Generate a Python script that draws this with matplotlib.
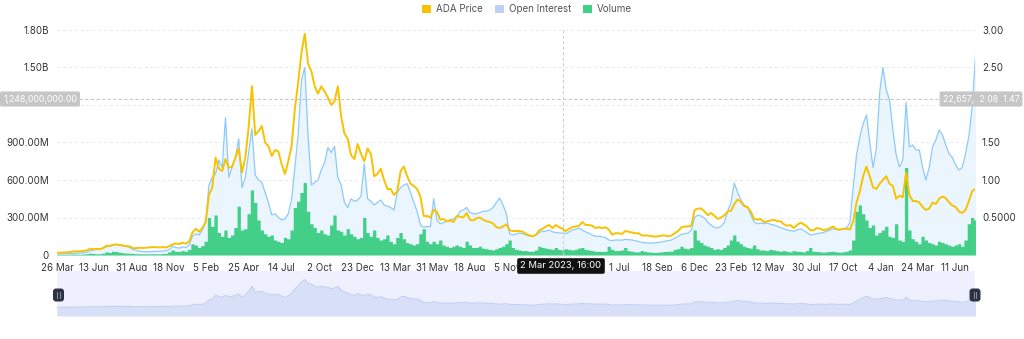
import numpy as np
import pandas as pd
import matplotlib as mlt
mlt.use('Agg')
from matplotlib import pyplot as plt
from matplotlib.patches import FancyBboxPatch, Patch
from matplotlib.lines import Line2D

plt.rcParams['font.family'] = ['Inter', 'DejaVu Sans']

# weekly samples, 26 Mar 2020 .. 24 Jul 2025
dates = pd.date_range('2020-03-26', periods=279, freq='7D')

# ADA price (USD), right axis
price = [
    0.032, 0.030, 0.034, 0.035, 0.039, 0.048, 0.050, 0.048, 0.057, 0.060,
    0.085, 0.078, 0.081, 0.078, 0.095, 0.125, 0.120, 0.135, 0.140, 0.135,
    0.122, 0.118, 0.115, 0.090, 0.092, 0.096, 0.093, 0.098, 0.102, 0.105,
    0.105, 0.100, 0.105, 0.100, 0.120, 0.140, 0.155, 0.145, 0.165, 0.150,
    0.180, 0.300, 0.350, 0.310, 0.360, 0.440, 0.800, 0.900, 1.300, 1.150,
    1.120, 1.280, 1.160, 1.180, 1.300, 1.420, 1.100, 1.300, 1.700, 2.250,
    1.600, 1.650, 1.720, 1.500, 1.450, 1.320, 1.400, 1.380, 1.210, 1.080,
    1.250, 1.450, 1.950, 2.300, 2.700, 2.950, 2.550, 2.450, 2.250, 2.150,
    2.250, 2.180, 2.100, 2.000, 2.050, 2.250, 1.850, 1.620, 1.550, 1.330,
    1.280, 1.480, 1.350, 1.250, 1.420, 1.350, 1.050, 1.080, 1.150, 1.000,
    0.880, 0.880, 0.800, 0.850, 1.120, 1.180, 1.050, 0.950, 0.920, 0.880,
    0.780, 0.520, 0.520, 0.500, 0.600, 0.580, 0.470, 0.480, 0.450, 0.460,
    0.440, 0.520, 0.510, 0.500, 0.560, 0.470, 0.460, 0.490, 0.500, 0.470,
    0.450, 0.440, 0.420, 0.370, 0.360, 0.380, 0.410, 0.330, 0.320, 0.320,
    0.320, 0.310, 0.280, 0.260, 0.250, 0.270, 0.330, 0.350, 0.380, 0.400,
    0.360, 0.400, 0.370, 0.350, 0.320, 0.350, 0.370, 0.380, 0.390, 0.440,
    0.400, 0.400, 0.390, 0.360, 0.370, 0.360, 0.370, 0.340, 0.270, 0.290,
    0.290, 0.280, 0.320, 0.310, 0.300, 0.290, 0.290, 0.260, 0.260, 0.260,
    0.250, 0.245, 0.250, 0.260, 0.260, 0.250, 0.260, 0.290, 0.320, 0.370,
    0.380, 0.380, 0.390, 0.600, 0.620, 0.620, 0.580, 0.530, 0.560, 0.520,
    0.480, 0.500, 0.530, 0.580, 0.590, 0.680, 0.740, 0.710, 0.650, 0.640,
    0.580, 0.480, 0.470, 0.480, 0.440, 0.450, 0.460, 0.470, 0.450, 0.450,
    0.410, 0.390, 0.400, 0.360, 0.400, 0.430, 0.410, 0.380, 0.330, 0.330,
    0.360, 0.350, 0.330, 0.340, 0.360, 0.380, 0.340, 0.340, 0.350, 0.350,
    0.340, 0.450, 0.700, 0.850, 1.050, 1.180, 1.050, 0.900, 0.880, 0.950,
    1.000, 1.050, 0.950, 0.920, 0.750, 0.790, 0.770, 1.100, 0.800, 0.720,
    0.720, 0.700, 0.640, 0.600, 0.620, 0.700, 0.680, 0.750, 0.780, 0.760,
    0.700, 0.660, 0.640, 0.580, 0.560, 0.600, 0.720, 0.850, 0.880,
]

# open interest (millions USD), left axis
oi_m = [
    8, 8, 10, 10, 12, 14, 16, 16, 18, 22,
    35, 40, 45, 50, 55, 65, 75, 80, 85, 82,
    78, 70, 60, 45, 38, 30, 28, 26, 26, 28,
    30, 30, 32, 34, 45, 70, 60, 55, 65, 60,
    80, 150, 170, 160, 200, 260, 560, 620, 650, 760,
    700, 1100, 620, 700, 780, 930, 540, 620, 820, 1010,
    640, 600, 580, 500, 420, 320, 330, 300, 280, 290,
    330, 440, 700, 960, 1400, 1500, 950, 560, 580, 600,
    680, 740, 860, 820, 870, 620, 560, 420, 380, 450,
    430, 440, 470, 730, 450, 430, 400, 420, 440, 400,
    390, 380, 360, 500, 540, 560, 570, 500, 420, 350,
    240, 220, 230, 225, 450, 280, 250, 260, 270, 280,
    290, 300, 350, 360, 380, 340, 330, 330, 340, 350,
    350, 360, 380, 420, 456, 400, 330, 170, 160, 170,
    176, 170, 160, 150, 150, 160, 180, 190, 190, 200,
    185, 180, 176, 175, 170, 185, 200, 205, 216, 200,
    185, 175, 160, 150, 150, 145, 140, 120, 115, 120,
    120, 118, 125, 122, 120, 115, 108, 100, 98, 96,
    96, 98, 100, 105, 110, 115, 120, 135, 150, 165,
    170, 176, 200, 300, 320, 310, 296, 260, 240, 220,
    216, 230, 260, 350, 420, 576, 500, 440, 400, 384,
    320, 264, 250, 255, 250, 256, 245, 240, 230, 220,
    210, 200, 195, 190, 200, 210, 195, 180, 160, 165,
    170, 175, 180, 190, 200, 210, 205, 200, 210, 216,
    260, 544, 800, 944, 1050, 1120, 900, 700, 850, 1300,
    1500, 1320, 1240, 1000, 800, 704, 760, 1220, 864, 880,
    840, 840, 700, 600, 700, 864, 920, 1000, 960, 880,
    810, 780, 720, 680, 700, 810, 950, 1180, 1600,
]

# volume (millions USD), left axis
vol_m = [
    5, 4, 5, 5, 6, 8, 7, 6, 8, 10,
    15, 12, 10, 10, 14, 25, 20, 30, 28, 22,
    18, 15, 14, 12, 10, 10, 9, 10, 9, 10,
    10, 9, 12, 12, 25, 40, 30, 28, 35, 30,
    45, 90, 80, 60, 75, 110, 300, 230, 320, 180,
    150, 200, 140, 160, 220, 390, 200, 210, 330, 520,
    420, 280, 200, 170, 150, 160, 120, 110, 100, 140,
    130, 200, 380, 430, 500, 580, 350, 250, 220, 180,
    200, 170, 160, 240, 320, 200, 190, 160, 210, 170,
    150, 130, 140, 300, 180, 150, 200, 140, 120, 130,
    160, 110, 90, 140, 180, 130, 100, 90, 80, 90,
    170, 210, 110, 90, 110, 90, 120, 80, 70, 60,
    70, 80, 70, 60, 110, 80, 60, 60, 70, 55,
    50, 45, 40, 50, 60, 70, 90, 120, 60, 45,
    40, 35, 35, 30, 30, 40, 70, 60, 55, 50,
    45, 60, 45, 40, 50, 45, 40, 45, 55, 60,
    45, 40, 35, 30, 30, 28, 30, 70, 45, 35,
    35, 40, 60, 35, 30, 25, 25, 35, 28, 25,
    22, 20, 22, 25, 28, 30, 30, 45, 50, 70,
    55, 50, 60, 200, 120, 100, 80, 70, 60, 45,
    50, 45, 60, 80, 120, 160, 110, 90, 70, 60,
    55, 80, 50, 40, 40, 35, 45, 40, 35, 30,
    35, 30, 25, 35, 30, 28, 25, 35, 60, 30,
    28, 25, 22, 25, 28, 30, 25, 22, 25, 30,
    40, 120, 350, 400, 330, 280, 220, 240, 160, 180,
    200, 230, 150, 140, 250, 120, 110, 700, 200, 130,
    110, 90, 150, 120, 100, 90, 80, 110, 100, 90,
    80, 70, 80, 90, 70, 120, 250, 300, 280,
]

tick_dates = ['2020-03-26', '2020-06-13', '2020-08-31', '2020-11-18', '2021-02-05',
              '2021-04-25', '2021-07-14', '2021-10-02', '2021-12-23', '2022-03-13',
              '2022-05-31', '2022-08-18', '2022-11-05', '2023-07-01', '2023-09-18',
              '2023-12-06', '2024-02-23', '2024-05-12', '2024-07-30', '2024-10-17',
              '2025-01-04', '2025-03-24', '2025-06-11']
tick_labels = ['26 Mar', '13 Jun', '31 Aug', '18 Nov', '5 Feb', '25 Apr', '14 Jul',
               '2 Oct', '23 Dec', '13 Mar', '31 May', '18 Aug', '5 Nov', '1 Jul',
               '18 Sep', '6 Dec', '23 Feb', '12 May', '30 Jul', '17 Oct', '4 Jan',
               '24 Mar', '11 Jun']

left_ticks = [0, 300, 600, 900, 1200, 1500, 1800]
left_labels = ['0', '300.00M', '600.00M', '900.00M', '', '1.50B', '1.80B']
right_ticks = [0.5, 1.0, 1.5, 2.0, 2.5, 3.0]
right_labels = ['0.5000', '1.00', '1.50', '', '2.50', '3.00']

cross_date = pd.Timestamp('2023-03-02 16:00')
cross_value = 1248

price_c = '#f7c300'
oi_c = '#8ccafa'
oi_fill = '#ebf5fe'
vol_c = '#44cf89'
txt_c = '#333333'

x_end = pd.Timestamp('2025-07-23')


def px(x, y):
    # pixel position -> inches for fig.dpi_scale_trans
    return x / 100.0, (339 - y) / 100.0


fig = plt.figure(figsize=(10.24, 3.39), dpi=100)

ax = fig.add_axes([57 / 1024, 1 - 255 / 339, 918 / 1024, 225 / 339])
ax.set_xlim(dates[0], x_end)
ax.set_ylim(0, 1800)
ax.set_axisbelow(True)
ax.fill_between(dates, oi_m, 0, color=oi_fill, lw=0, zorder=1)
ax.fill_between(dates, vol_m, 0, step='mid', color=vol_c, lw=0, zorder=2)
ax.plot(dates, oi_m, color=oi_c, lw=0.9, zorder=3)
ax.axhline(cross_value, color='#c8c8c8', lw=0.8, ls=(0, (3, 2)), zorder=4)

ax.set_yticks(left_ticks)
ax.set_yticklabels(left_labels)
ax.set_xticks(pd.to_datetime(tick_dates))
ax.set_xticklabels(tick_labels)
ax.grid(axis='y', color='#e9e9e9', lw=0.7, ls=(0, (3, 3)))
ax.tick_params(axis='both', length=0, labelsize=7, colors=txt_c)
ax.tick_params(axis='y', pad=6)
ax.tick_params(axis='x', pad=6)
for s in ax.spines.values():
    s.set_visible(False)

ax2 = ax.twinx()
ax2.set_ylim(0, 3)
ax2.plot(dates, price, color=price_c, lw=1.4, zorder=4)
ax2.axvline(cross_date, color='#d0d0d0', lw=0.8, ls=(0, (3, 2)), zorder=1)
ax2.set_yticks(right_ticks)
ax2.set_yticklabels(right_labels)
ax2.tick_params(axis='y', length=0, labelsize=7, colors=txt_c, pad=5)
for s in ax2.spines.values():
    s.set_visible(False)

# legend
handles = [Patch(fc=price_c), Patch(fc='#bdd1f8'), Patch(fc=vol_c)]
fig.legend(handles, ['ADA Price', 'Open Interest', 'Volume'], loc='center',
           bbox_to_anchor=(527 / 1024, 1 - 9 / 339), ncol=3, frameon=False,
           fontsize=7, handlelength=0.9, handleheight=0.9, handletextpad=0.5,
           columnspacing=1.3, labelcolor='#555555')

# crosshair labels
tr = fig.dpi_scale_trans
grey_box = dict(boxstyle='round,pad=0.35,rounding_size=0.2', fc='#c6c6c6', ec='none')
fig.text(*px(40, 99), '1,248,000,000.00', transform=tr, ha='center', va='center',
         fontsize=6.3, color='white', bbox=grey_box)
fig.text(*px(981, 99), '22,657,  2.08  1.47', transform=tr, ha='center', va='center',
         fontsize=6.3, color='white', bbox=grey_box)
fig.text(*px(561, 266), '2 Mar 2023, 16:00', transform=tr, ha='center', va='center',
         fontsize=6.8, color='white',
         bbox=dict(boxstyle='round,pad=0.35,rounding_size=0.2', fc='#111111', ec='none'))

# data zoom slider
axs = fig.add_axes([57 / 1024, 1 - 316 / 339, 918 / 1024, 45 / 339])
axs.set_facecolor('#eef1fd')
axs.fill_between(dates, price, -0.88, color='#d8e0f8', lw=0)
axs.plot(dates, price, color='#c3d0f4', lw=0.8)
axs.set_xlim(dates[0], x_end)
axs.set_ylim(-0.88, 3.84)
axs.set_xticks([])
axs.set_yticks([])
for s in axs.spines.values():
    s.set_visible(False)

for hx in (58.5, 975):
    x0, y0 = px(hx - 5.5, 301.5)
    fig.add_artist(FancyBboxPatch((x0, y0), 0.11, 0.13, transform=tr,
                                  boxstyle='round,pad=0,rounding_size=0.03',
                                  fc='#2d3340', ec='none', zorder=8))
    for dx in (-1.2, 1.2):
        xa, ya = px(hx + dx, 298)
        xb, yb = px(hx + dx, 292)
        fig.add_artist(Line2D([xa, xb], [ya, yb], transform=tr, color='#9aa3b5',
                              lw=0.6, zorder=9))

fig.savefig('out.png', dpi=100)
